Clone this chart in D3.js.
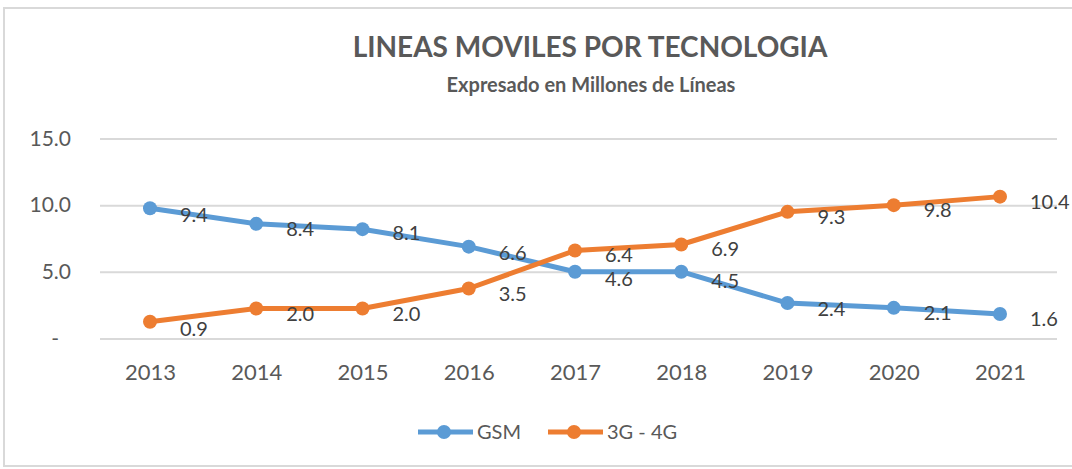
<!DOCTYPE html>
<html>
<head>
<meta charset="utf-8">
<script src="https://cdn.jsdelivr.net/npm/d3@7"></script>
<style>
  body { margin: 0; background: #fff; }
  svg { display: block; font-family: Lato, "Open Sans", sans-serif; }
</style>
</head>
<body>
<svg width="1072" height="469"></svg>
<script>
// data
const years = ['2013', '2014', '2015', '2016', '2017', '2018', '2019', '2020', '2021'];
// where the markers sit
const gsmPlotted = [9.77, 8.6, 8.2, 6.89, 5.01, 5.01, 2.66, 2.3, 1.84];
const g34Plotted = [1.26, 2.25, 2.25, 3.75, 6.6, 7.05, 9.5, 10.0, 10.64];
// what the data labels say
const gsmLabels = [9.4, 8.4, 8.1, 6.6, 4.6, 4.5, 2.4, 2.1, 1.6];
const g34Labels = [0.9, 2.0, 2.0, 3.5, 6.4, 6.9, 9.3, 9.8, 10.4];
const yTicks = [0, 5, 10, 15];

const series = [
  {name: 'GSM', color: '#5b9bd5', values: gsmPlotted, labels: gsmLabels},
  {name: '3G - 4G', color: '#ed7d31', values: g34Plotted, labels: g34Labels}
];

const svg = d3.select('svg');

// outer frame
svg.append('rect')
  .attr('x', 4).attr('y', 8)
  .attr('width', 1080).attr('height', 458)
  .attr('fill', 'none')
  .attr('stroke', '#d9d9d9')
  .attr('stroke-width', 2);

// titles
svg.append('text')
  .attr('x', 590).attr('y', 57)
  .attr('text-anchor', 'middle')
  .attr('font-size', 28).attr('font-weight', 'bold')
  .attr('fill', '#595959')
  .text('LINEAS MOVILES POR TECNOLOGIA');

svg.append('text')
  .attr('x', 591).attr('y', 92)
  .attr('text-anchor', 'middle')
  .attr('font-size', 20).attr('font-weight', 'bold')
  .attr('fill', '#595959')
  .text('Expresado en Millones de Líneas');

const x = d3.scalePoint().domain(years).range([150, 1000]);
const y = d3.scaleLinear().domain([0, 15]).range([338.5, 138.5]);

// y axis with gridlines
const yAxis = svg.append('g')
  .attr('transform', 'translate(100,0)')
  .call(d3.axisLeft(y)
    .tickValues(yTicks)
    .tickSize(-957)
    .tickPadding(29)
    .tickFormat(d => d === 0 ? '-' : d3.format('.1f')(d)));
yAxis.select('.domain').remove();
yAxis.selectAll('line').attr('stroke', '#d9d9d9').attr('stroke-width', 2);
yAxis.selectAll('text')
  .attr('font-size', 21).attr('fill', '#595959')
  .attr('font-family', 'Lato, sans-serif');
yAxis.selectAll('.tick')
  .filter(d => d === 0)
  .select('text').attr('dx', -12);

// x axis labels only
const xAxis = svg.append('g')
  .attr('transform', 'translate(0,338.5)')
  .call(d3.axisBottom(x).tickSize(0).tickPadding(26));
xAxis.select('.domain').remove();
xAxis.selectAll('text')
  .attr('font-size', 22).attr('fill', '#595959')
  .attr('font-family', 'Lato, sans-serif');

const line = d3.line()
  .x((d, i) => x(years[i]))
  .y(d => y(d));

series.forEach(s => {
  const g = svg.append('g');
  g.append('path')
    .datum(s.values)
    .attr('d', line)
    .attr('fill', 'none')
    .attr('stroke', s.color)
    .attr('stroke-width', 5)
    .attr('stroke-linejoin', 'round');

  g.selectAll('circle')
    .data(s.values)
    .enter()
    .append('circle')
    .attr('cx', (d, i) => x(years[i]))
    .attr('cy', d => y(d))
    .attr('r', 7)
    .attr('fill', s.color);

  g.selectAll('text')
    .data(s.labels)
    .enter()
    .append('text')
    .attr('x', (d, i) => x(years[i]) + 30)
    .attr('y', d => y(d) + 9)
    .attr('font-size', 20)
    .attr('fill', '#404040')
    .text(d => d3.format('.1f')(d));
});

// legend
const legendX = [418, 548];
series.forEach((s, i) => {
  const lg = svg.append('g').attr('transform', `translate(${legendX[i]},432)`);
  lg.append('line')
    .attr('x1', 0).attr('x2', 55)
    .attr('stroke', s.color).attr('stroke-width', 5);
  lg.append('circle')
    .attr('cx', 26).attr('r', 7).attr('fill', s.color);
  lg.append('text')
    .attr('x', 59).attr('y', 7)
    .attr('font-size', 20).attr('fill', '#595959')
    .text(s.name);
});
</script>
</body>
</html>
